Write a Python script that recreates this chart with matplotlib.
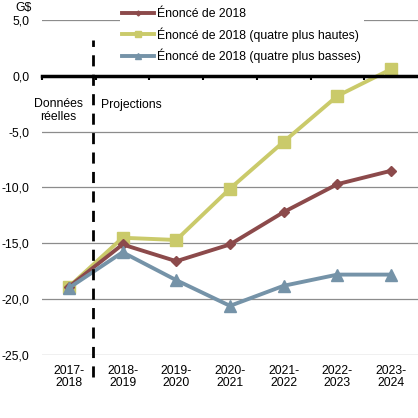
import matplotlib
matplotlib.use("Agg")
from matplotlib import pyplot as plt
from matplotlib.ticker import FuncFormatter

plt.rcParams['font.family'] = ['Liberation Sans', 'DejaVu Sans']

years = ["2017-\n2018", "2018-\n2019", "2019-\n2020", "2020-\n2021",
         "2021-\n2022", "2022-\n2023", "2023-\n2024"]
enonce = [-18.9, -15.1, -16.6, -15.1, -12.2, -9.7, -8.5]
hautes = [-18.9, -14.5, -14.7, -10.1, -5.9, -1.8, 0.6]
basses = [-19.0, -15.8, -18.3, -20.6, -18.8, -17.8, -17.8]
yticks = [5, 0, -5, -10, -15, -20, -25]

RED = "#8C4A4B"
YEL = "#CACA6A"
BLU = "#7593A8"
FS = 8.8

fig = plt.figure(figsize=(4.18, 4.18), dpi=100)
ax = fig.add_axes([42 / 418, 1 - 355 / 418, 376 / 418, 335 / 418])
x = range(len(years))

ax.set_xlim(-0.5, len(years) - 0.5)
ax.set_ylim(-25, 5)
for v in yticks:
    if v != 0:
        ax.axhline(v, color="#8c8c8c", lw=0.9, zorder=0)

l1, = ax.plot(x, enonce, color=RED, lw=2.8, marker="D", ms=5, zorder=3,
              label="Énoncé de 2018")
l2, = ax.plot(x, hautes, color=YEL, lw=2.8, marker="s", ms=8, zorder=2,
              label="Énoncé de 2018 (quatre plus hautes)")
l3, = ax.plot(x, basses, color=BLU, lw=2.8, marker="^", ms=8, zorder=4,
              label="Énoncé de 2018 (quatre plus basses)")

# zero axis with ticks at category boundaries
for s in ["top", "right", "left"]:
    ax.spines[s].set_visible(False)
ax.spines["bottom"].set_position(("data", 0))
ax.spines["bottom"].set_linewidth(2.5)
ax.spines["bottom"].set_zorder(5)
ax.set_xticks([i - 0.5 for i in x])
ax.set_xticklabels([])
ax.tick_params(axis="x", length=3, width=1.5, direction="out")

sec = ax.secondary_xaxis(0)
sec.set_xticks(list(x))
sec.set_xticklabels(years, fontsize=FS, linespacing=1.0)
sec.tick_params(length=0, pad=7)
sec.spines["bottom"].set_visible(False)

ax.set_yticks(yticks)
ax.yaxis.set_major_formatter(FuncFormatter(lambda v, p: f"{v:.1f}".replace(".", ",")))
ax.tick_params(axis="y", length=0, labelsize=FS, pad=9)

# actual / projection split
ax.axvline(0.45, ymin=-0.065, ymax=0.94, color="black", lw=2, ls=(0, (4, 3)),
           clip_on=False, zorder=6)

ax.text(-0.2, -3.1, "Données\nréelles", ha="center", va="center",
        fontsize=FS, linespacing=1.15)
ax.text(0.6, -2.6, "Projections", ha="left", va="center", fontsize=FS)
fig.text(32 / 418, 1 - 8 / 418, "G$", ha="right", va="center", fontsize=FS)

leg = ax.legend(handles=[l1, l2, l3], loc="upper left",
                bbox_to_anchor=(0.19, 1.06), frameon=True, fontsize=FS,
                handlelength=2.6, handletextpad=0.3, labelspacing=0.55,
                borderpad=0.2, markerscale=0.5)
leg.get_frame().set_edgecolor("none")
leg.get_frame().set_facecolor("white")
leg.get_frame().set_alpha(1)
leg.set_zorder(7)

fig.savefig("out.png", dpi=100)
